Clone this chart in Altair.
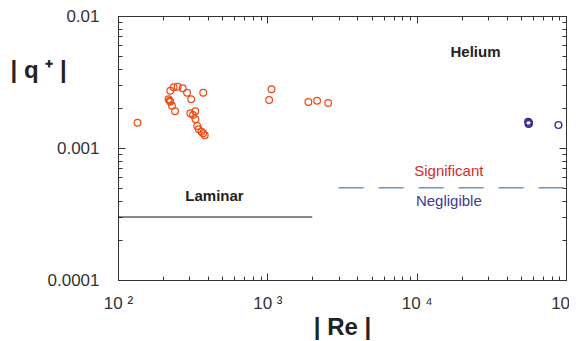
import altair as alt
import pandas as pd

# Helium data (red circles)
re_red = [135, 224, 236, 251, 271, 290, 309, 372, 218, 222, 224, 230, 241, 305, 329, 318,
          330, 339, 347, 362, 372, 381, 1067, 1028, 1883, 2154, 2555]
q_red = [0.001555, 0.002717, 0.002883, 0.002914, 0.002834, 0.002624, 0.002339, 0.002624,
         0.002339, 0.002282, 0.002243, 0.002092, 0.001897, 0.001832, 0.001897, 0.001778,
         0.00165, 0.001468, 0.001386, 0.001329, 0.001292, 0.001248, 0.002784, 0.002311,
         0.002232, 0.002282, 0.002193]
# blue circles
re_blue = [56500, 55800, 56200, 89000]
q_blue = [0.00155, 0.00158, 0.00152, 0.001494]

# lines
laminar_re = [100, 2000]
laminar_q = [0.0003, 0.0003]
thresh_re = [3000, 100000]
thresh_q = [0.0005, 0.0005]

# annotations
ann_text = ["Helium", "Laminar", "Significant", "Negligible"]
ann_re = [24770, 443, 16420, 16420]
ann_q = [0.00538, 0.000433, 0.00067, 0.000397]
ann_color = ["#222222", "#222222", "#d42a2a", "#3b3b8f"]
ann_weight = ["bold", "bold", "normal", "normal"]

x_major = [100, 1000, 10000, 100000]
x_major_labels = ["10 ²", "10 ³", "10 ⁴", "10 ⁵"]
y_major = [0.0001, 0.001, 0.01]
y_major_labels = ["0.0001", "0.001", "0.01"]
x_minor = [m * d for d in [100, 1000, 10000] for m in range(1, 10)] + [100000]
y_minor = [round(m * d, 6) for d in [0.0001, 0.001] for m in range(1, 10)] + [0.01]

def label_expr(vals, labels):
    e = "''"
    for v, l in zip(vals, labels):
        e = f"abs(datum.value - {v}) < {v}*0.01 ? '{l}' : ({e})"
    return e

xs = alt.Scale(type="log", domain=[100, 100000], nice=False)
ys = alt.Scale(type="log", domain=[0.0001, 0.01], nice=False)

AX = dict(grid=False, domainColor="#333333", tickColor="#333333", labelFont="Liberation Sans",
          labelColor="#333333", labelFontSize=17, labelFlush=False, labelOverlap=False)

x_bottom_major = alt.Axis(orient="bottom", values=x_major, labelExpr=label_expr(x_major, x_major_labels),
                          tickSize={"expr": "-7"}, labelPadding=22, title="| Re |",
                          titleFont="Liberation Sans", titleFontSize=24, titleFontWeight="bold",
                          titleColor="#222222", titlePadding=4, **AX)
y_left_major = alt.Axis(orient="left", values=y_major, labelExpr=label_expr(y_major, y_major_labels),
                        tickSize={"expr": "-7"}, labelPadding=26, title="| q ⁺ |",
                        titleFont="Liberation Sans", titleFontSize=24, titleFontWeight="bold",
                        titleColor="#222222", titleAngle=0, titleAlign="left",
                        titleBaseline="alphabetic", titleX=-108, titleY=61, **AX)
x_bottom_minor = alt.Axis(orient="bottom", values=x_minor, labels=False, tickSize={"expr": "-4"},
                          domain=False, title=None, grid=False, tickColor="#333333")
y_left_minor = alt.Axis(orient="left", values=y_minor, labels=False, tickSize={"expr": "-4"},
                        domain=False, title=None, grid=False, tickColor="#333333")
x_top_major = alt.Axis(orient="top", values=x_major, labels=False, tickSize={"expr": "-7"},
                       title=None, grid=False, domainColor="#333333", tickColor="#333333")
y_right_major = alt.Axis(orient="right", values=y_major, labels=False, tickSize={"expr": "-7"},
                         title=None, grid=False, domainColor="#333333", tickColor="#333333")
x_top_minor = alt.Axis(orient="top", values=x_minor, labels=False, tickSize={"expr": "-4"},
                       domain=False, title=None, grid=False, tickColor="#333333")
y_right_minor = alt.Axis(orient="right", values=y_minor, labels=False, tickSize={"expr": "-4"},
                         domain=False, title=None, grid=False, tickColor="#333333")

red_df = pd.DataFrame({"re": re_red, "q": q_red})
blue_df = pd.DataFrame({"re": re_blue, "q": q_blue})
lam_df = pd.DataFrame({"re": laminar_re, "q": laminar_q})
thr_df = pd.DataFrame({"re": thresh_re, "q": thresh_q})
ann_df = pd.DataFrame({"t": ann_text, "re": ann_re, "q": ann_q, "c": ann_color, "w": ann_weight})

red = alt.Chart(red_df).mark_point(shape="circle", filled=False, size=45, strokeWidth=1.2,
                                   color="#ee4a14", opacity=1).encode(
    x=alt.X("re:Q", scale=xs, axis=x_bottom_major),
    y=alt.Y("q:Q", scale=ys, axis=y_left_major))

blue = alt.Chart(blue_df).mark_point(shape="circle", filled=False, size=45, strokeWidth=1.4,
                                     color="#3a2a8c", opacity=1).encode(
    x=alt.X("re:Q", scale=xs, axis=x_bottom_minor),
    y=alt.Y("q:Q", scale=ys, axis=y_left_minor))

lam = alt.Chart(lam_df).mark_line(color="#111111", strokeWidth=1).encode(
    x=alt.X("re:Q", scale=xs, axis=x_top_major),
    y=alt.Y("q:Q", scale=ys, axis=y_right_major))

thr = alt.Chart(thr_df).mark_line(color="#5b9bd5", strokeWidth=1.3, strokeDash=[25, 15]).encode(
    x=alt.X("re:Q", scale=xs, axis=x_top_minor),
    y=alt.Y("q:Q", scale=ys, axis=y_right_minor))

txt_bold = alt.Chart(ann_df[ann_df.w == "bold"]).mark_text(
    font="Liberation Sans", fontSize=15, fontWeight="bold", align="center", baseline="middle").encode(
    x=alt.X("re:Q", scale=xs, axis=None), y=alt.Y("q:Q", scale=ys, axis=None),
    text="t:N", color=alt.Color("c:N", scale=None))

txt_norm = alt.Chart(ann_df[ann_df.w == "normal"]).mark_text(
    font="Liberation Sans", fontSize=15, align="center", baseline="middle").encode(
    x=alt.X("re:Q", scale=xs, axis=None), y=alt.Y("q:Q", scale=ys, axis=None),
    text="t:N", color=alt.Color("c:N", scale=None))

chart = alt.layer(red, blue, lam, thr, txt_bold, txt_norm).resolve_scale(
    x="shared", y="shared").resolve_axis(x="independent", y="independent").properties(
    width=448, height=264,
    autosize=alt.AutoSizeParams(type="none"),
    padding={"left": 110, "top": 8, "right": 3, "bottom": 60},
).configure_view(stroke=None)

chart.save("out.html", embed_options={"renderer": "svg", "actions": False})
